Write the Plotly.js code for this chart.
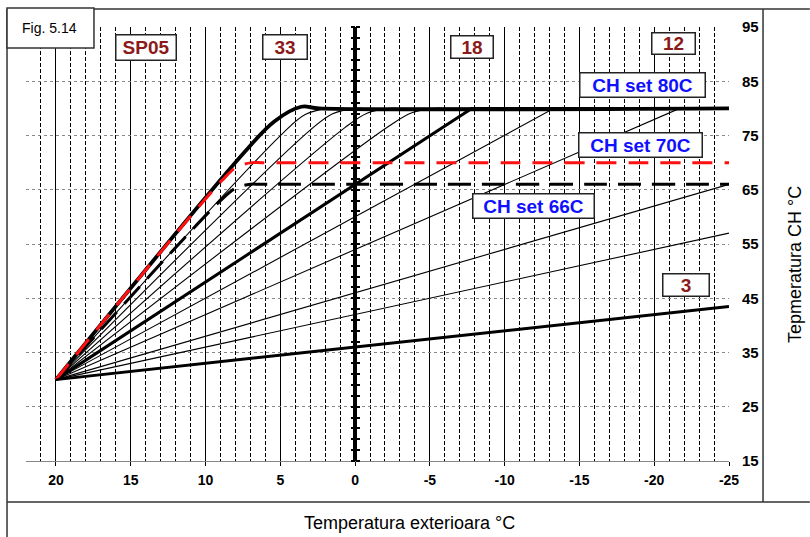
<!DOCTYPE html>
<html>
<head>
<meta charset="utf-8">
<script src="https://cdn.plot.ly/plotly-3.0.1.min.js"></script>
<style>html,body{margin:0;padding:0;background:#fff;}#chart{width:810px;height:537px;}</style>
</head>
<body>
<div id="chart"></div>
<script>
// ---- data ----
const xTickVals = [20, 15, 10, 5, 0, -5, -10, -15, -20, -25];
const xTickText = ['20', '15', '10', '5', '0', '-5', '-10', '-15', '-20', '-25'];
const yTickVals = [15, 25, 35, 45, 55, 65, 75, 85, 95];
const yTickText = ['15', '25', '35', '45', '55', '65', '75', '85', '95'];

// heating curves (outside temp -> CH temp), each starts at (20, 30)
const c3x = [20, -25], c3y = [30, 43.5];
const c6x = [20, -25], c6y = [30, 57];
const c8x = [20, -25], c8y = [30, 66];
const c12x = [20, -21.7, -25], c12y = [30, 80, 80];
const c15x = [20, -13.3, -25], c15y = [30, 80, 80];
const c18x = [20, -7.8, -25], c18y = [30, 80, 80];
const c21x = [20, -2.3, -3.8, -5.3, -6.3, -25], c21y = [30, 76.8, 79.2, 80, 80, 80];
const c24x = [20, 0.7, -0.8, -2.3, -3.3, -25], c24y = [30, 76.4, 79.1, 80, 80, 80];
const c27x = [20, 3.0, 1.5, 0.0, -1.0, -25], c27y = [30, 76.0, 79.0, 80, 80, 80];
const c30x = [20, 4.8, 3.3, 1.8, 0.8, -25], c30y = [30, 75.5, 78.9, 80, 80, 80];
const c33x = [20, 7.4, 5.4, 3.6, 2.4, -25], c33y = [30, 71.9, 77.6, 80.3, 80, 80];
// CH set-point limited curves
const set70x = [20, 8.9, 7.9, 6.9, 6.2, -25], set70y = [30, 66.7, 69.2, 70, 70, 70];
const set66x = [20, 9.0, 8.0, 7.0, 6.3, -25], set66y = [30, 63.0, 65.25, 66, 66, 66];

const curveLabels = ['SP05', '33', '18', '12', '3'];
const setLabels = ['CH set 80C', 'CH set 70C', 'CH set 66C'];

// ---- traces ----
function mk(x, y, w, extra, yaxis) {
  const t = {
    type: 'scatter', mode: 'lines', x: x, y: y, hoverinfo: 'skip', showlegend: false,
    line: Object.assign({color: '#000', width: w, shape: 'linear'}, extra || {})
  };
  if (yaxis) t.yaxis = yaxis;
  return t;
}
const thin = 1.1;
const sp = {shape: 'spline', smoothing: 1};
const traces = [
  mk(c6x, c6y, thin, null, 'y2'),
  mk(c8x, c8y, thin, null, 'y3'),
  mk(c12x, c12y, thin),
  mk(c15x, c15y, thin),
  mk(c21x, c21y, thin, sp),
  mk(c24x, c24y, thin, sp),
  mk(c27x, c27y, thin, sp),
  mk(c30x, c30y, thin, sp),
  mk(c3x, c3y, 3),
  mk(c18x, c18y, 3),
  mk(c33x, c33y, 3.8, sp),
  mk(set66x, set66y, 3, {shape: 'spline', smoothing: 1, dash: '23px,11px'}),
  mk(set70x, set70y, 3, {shape: 'spline', smoothing: 1, dash: '20px,12px', color: '#ff1010'})
];

const FONT = 'Liberation Sans, Arial, sans-serif';
function box(text, x, y, w, h, color) {
  return {
    text: '<b>' + text + '</b>', x: x, y: y, xref: 'x', yref: 'y', showarrow: false,
    font: {family: FONT, size: 19, color: color},
    bgcolor: '#fff', bordercolor: '#222', borderwidth: 1.5, borderpad: 1,
    width: w, height: h, align: 'center', valign: 'middle'
  };
}

const annotations = [
  box(curveLabels[0], 13.97, 91.3, 57, 22, '#8b1a1a'),
  box(curveLabels[1], 4.68, 91.3, 41, 21, '#8b1a1a'),
  box(curveLabels[2], -7.82, 91.4, 39, 19, '#8b1a1a'),
  box(curveLabels[3], -21.29, 91.9, 40, 18, '#8b1a1a'),
  box(curveLabels[4], -22.13, 47.5, 43, 19, '#8b1a1a'),
  box(setLabels[0], -19.22, 84.3, 122, 21, '#1010ff'),
  box(setLabels[1], -19.08, 73.3, 120, 21, '#1010ff'),
  box(setLabels[2], -11.93, 62.0, 118, 21, '#1010ff'),
  {text: 'Fig. 5.14', xref: 'paper', yref: 'paper', x: 0.0341, y: 0.9977, showarrow: false,
   font: {family: FONT, size: 14, color: '#000'}, xanchor: 'center', yanchor: 'middle'},
  {text: 'Temperatura exterioara °C', xref: 'paper', yref: 'paper', x: 0.546, y: -0.143, showarrow: false,
   font: {family: FONT, size: 18, color: '#000'}, xanchor: 'center', yanchor: 'middle'},
  {text: 'Tepmeratura CH °C', xref: 'paper', yref: 'paper', x: 1.094, y: 0.4516, showarrow: false, textangle: -90,
   font: {family: FONT, size: 18, color: '#000'}, xanchor: 'center', yanchor: 'middle'}
];

const frame = {color: '#333', width: 1.5};
const shapes = [
  {type: 'line', xref: 'paper', yref: 'paper', x0: -0.027, x1: 1.115, y0: 1.0415, y1: 1.0415, line: frame, layer: 'above'},
  {type: 'line', xref: 'paper', yref: 'paper', x0: -0.027, x1: -0.027, y0: 1.0415, y1: -0.2, line: frame, layer: 'above'},
  {type: 'line', xref: 'paper', yref: 'paper', x0: -0.027, x1: 1.115, y0: -0.0945, y1: -0.0945, line: frame, layer: 'above'},
  {type: 'line', xref: 'paper', yref: 'paper', x0: 1.0484, x1: 1.0484, y0: 1.0415, y1: -0.0945, line: frame, layer: 'above'},
  {type: 'rect', xref: 'paper', yref: 'paper', x0: -0.027, x1: 0.0967, y0: 0.9516, y1: 1.0438,
   line: frame, fillcolor: '#fff', layer: 'above'}
];

const yCommon = {
  range: [15, 95], fixedrange: true, showgrid: false, zeroline: false, showline: false,
  showticklabels: false, tickmode: 'linear', tick0: 15, dtick: 2,
  ticks: 'outside', ticklen: 4, tickwidth: 2, tickcolor: '#000',
  overlaying: 'y', anchor: 'free', position: 22 / 47
};

const layout = {
  width: 810, height: 537,
  margin: {l: 26, r: 81, t: 27, b: 76, pad: 0},
  paper_bgcolor: '#fff', plot_bgcolor: '#fff',
  showlegend: false,
  font: {family: FONT, color: '#000'},
  xaxis: {
    range: [22, -25], fixedrange: true,
    tickmode: 'array', tickvals: xTickVals, ticktext: xTickText,
    ticks: 'outside', ticklen: 4, tickwidth: 1, tickcolor: '#000',
    tickfont: {family: FONT, size: 14, color: '#000', weight: 'bold'},
    ticklabelstandoff: 2,
    showgrid: true, gridcolor: '#000', gridwidth: 1,
    minor: {tickmode: 'linear', tick0: 0, dtick: 1, showgrid: true, gridcolor: '#000', gridwidth: 1, griddash: '4px,2px', ticks: ''},
    zeroline: true, zerolinecolor: '#000', zerolinewidth: 4,
    showline: true, linecolor: '#888', linewidth: 1
  },
  yaxis: {
    range: [15, 95], fixedrange: true, side: 'right',
    tickmode: 'array', tickvals: yTickVals, ticktext: yTickText,
    ticks: '', ticklabelstandoff: 12,
    tickfont: {family: FONT, size: 15, color: '#000', weight: 'bold'},
    showgrid: true, gridcolor: '#888', gridwidth: 1, griddash: 'dot',
    zeroline: false, showline: false
  },
  yaxis2: Object.assign({}, yCommon, {side: 'left'}),
  yaxis3: Object.assign({}, yCommon, {side: 'right'}),
  annotations: annotations,
  shapes: shapes
};

Plotly.newPlot('chart', traces, layout, {staticPlot: true, displayModeBar: false});
</script>
</body>
</html>
